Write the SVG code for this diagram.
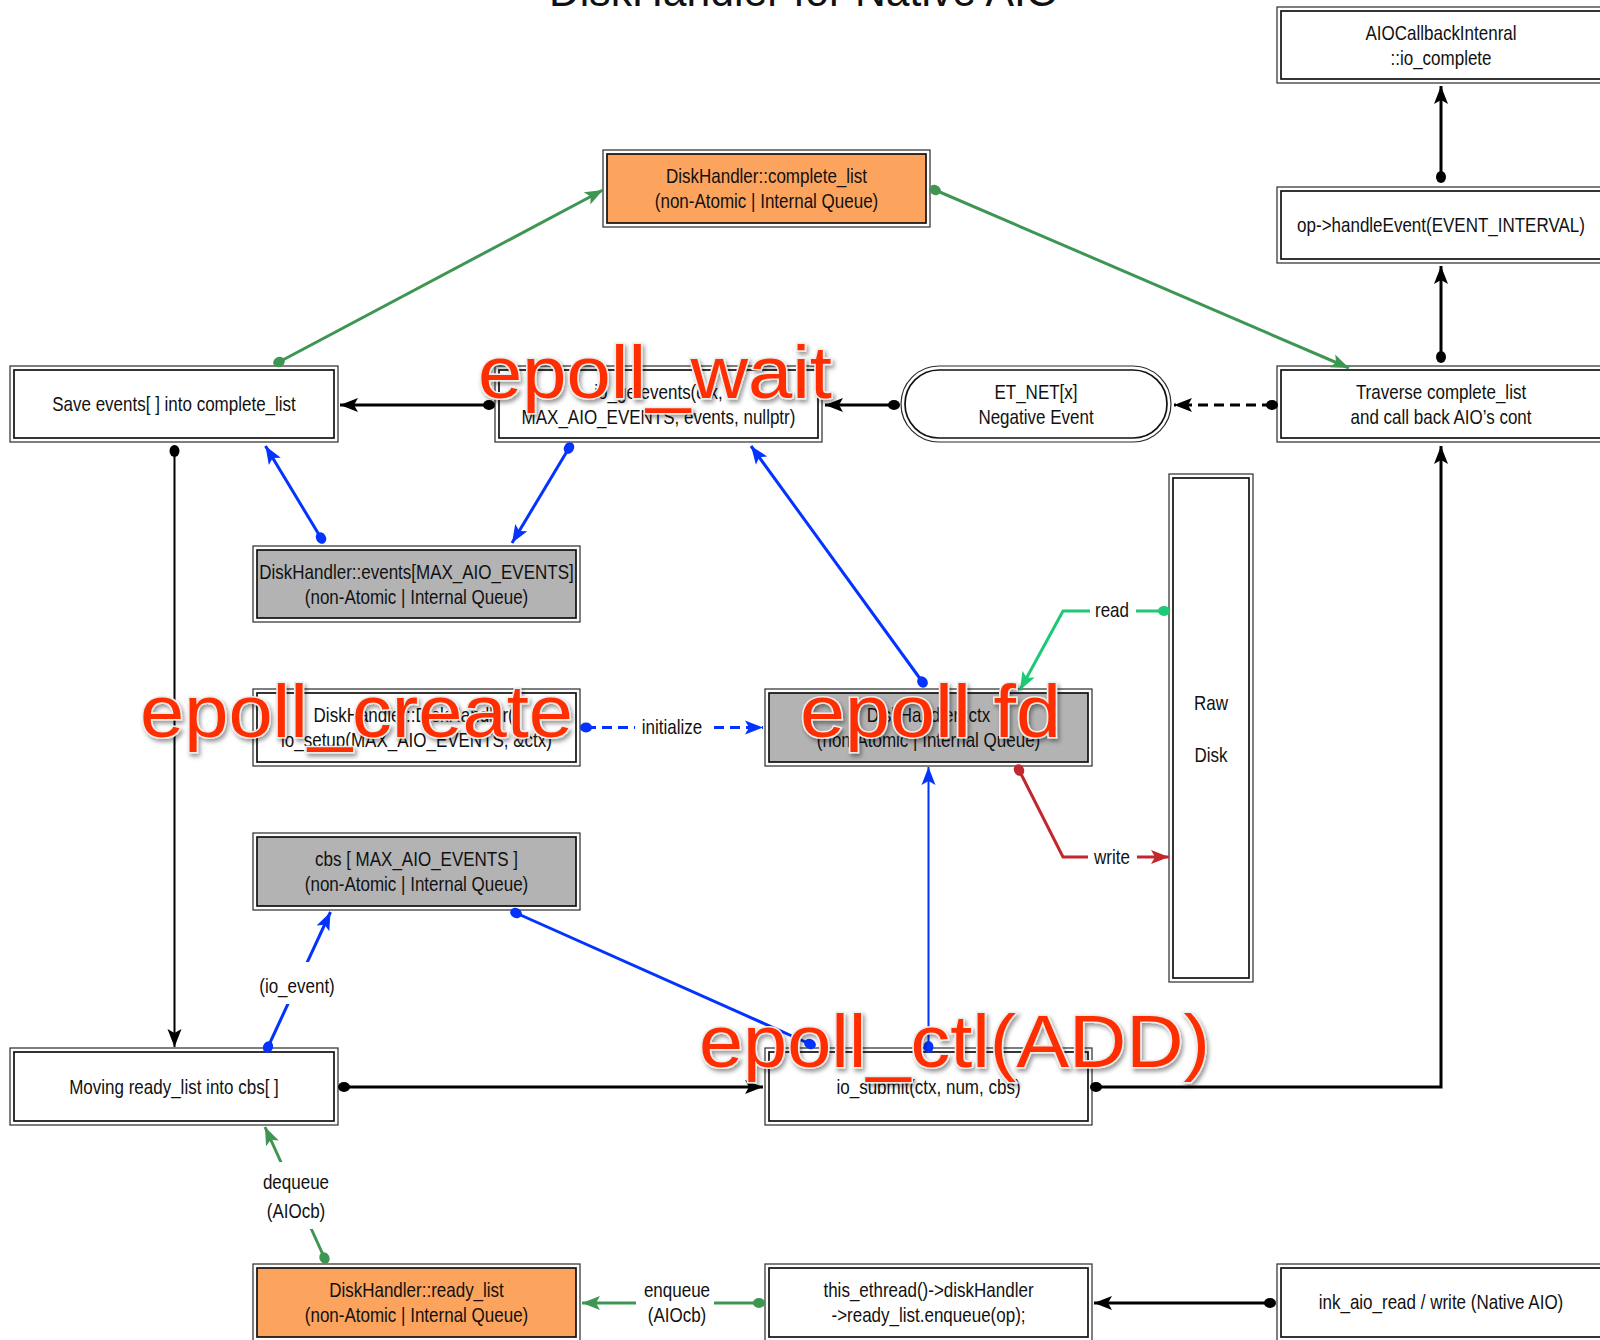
<svg xmlns="http://www.w3.org/2000/svg" width="1600" height="1340" viewBox="0 0 1600 1340">
  <style>
    .o { fill: #fff; stroke: #2a2a2a; stroke-width: 1.2; }
    .i { fill: none; stroke: #111; stroke-width: 1.7; }
    .or { fill: #fca45e; }
    .gy { fill: #b3b3b3; }
    .t text, text.t { font-family: "Liberation Sans", Arial, sans-serif; font-size: 20px; fill: #111; text-anchor: middle; }
    .title { font-family: "Liberation Sans", Arial, sans-serif; font-size: 44px; fill: #111; }
    .ov { font-family: "Liberation Sans", Arial, sans-serif; font-size: 74px; fill: #ff2e00; stroke: #ececec; stroke-width: 3; paint-order: stroke; filter: url(#sh); }
    .c { fill: none; stroke-width: 3; }
    .k { stroke: #000; }
    .b { stroke: #0433ff; }
    .g { stroke: #3f9652; }
    .rg { stroke: #1dc975; }
    .rd { stroke: #c1272d; }
    .thin { stroke-width: 2; }
    .dash { stroke-dasharray: 10 6; }
    .bg { fill: #fff; }
  </style>
  <defs>
    <filter id="sh" x="-10%" y="-30%" width="130%" height="170%">
      <feDropShadow dx="2" dy="3" stdDeviation="2" flood-color="#000" flood-opacity="0.4"/>
    </filter>
    <!-- arrowheads and dot tails, one pair per line colour -->
    <marker id="ak" markerUnits="userSpaceOnUse" markerWidth="20" markerHeight="16" viewBox="0 0 20 16" refX="18" refY="8" orient="auto"><path d="M0,1 L18,8 L0,15 L4,8 z" fill="#000"/></marker>
    <marker id="dk" markerUnits="userSpaceOnUse" markerWidth="14" markerHeight="12" viewBox="0 0 14 12" refX="7" refY="6" orient="auto"><ellipse cx="7" cy="6" rx="6" ry="5" fill="#000"/></marker>
    <marker id="ab" markerUnits="userSpaceOnUse" markerWidth="20" markerHeight="16" viewBox="0 0 20 16" refX="18" refY="8" orient="auto"><path d="M0,1 L18,8 L0,15 L4,8 z" fill="#0433ff"/></marker>
    <marker id="db" markerUnits="userSpaceOnUse" markerWidth="14" markerHeight="12" viewBox="0 0 14 12" refX="7" refY="6" orient="auto"><ellipse cx="7" cy="6" rx="6" ry="5" fill="#0433ff"/></marker>
    <marker id="ag" markerUnits="userSpaceOnUse" markerWidth="20" markerHeight="16" viewBox="0 0 20 16" refX="18" refY="8" orient="auto"><path d="M0,1 L18,8 L0,15 L4,8 z" fill="#3f9652"/></marker>
    <marker id="dg" markerUnits="userSpaceOnUse" markerWidth="14" markerHeight="12" viewBox="0 0 14 12" refX="7" refY="6" orient="auto"><ellipse cx="7" cy="6" rx="6" ry="5" fill="#3f9652"/></marker>
    <marker id="arg" markerUnits="userSpaceOnUse" markerWidth="20" markerHeight="16" viewBox="0 0 20 16" refX="18" refY="8" orient="auto"><path d="M0,1 L18,8 L0,15 L4,8 z" fill="#1dc975"/></marker>
    <marker id="drg" markerUnits="userSpaceOnUse" markerWidth="14" markerHeight="12" viewBox="0 0 14 12" refX="7" refY="6" orient="auto"><ellipse cx="7" cy="6" rx="6" ry="5" fill="#1dc975"/></marker>
    <marker id="ard" markerUnits="userSpaceOnUse" markerWidth="20" markerHeight="16" viewBox="0 0 20 16" refX="18" refY="8" orient="auto"><path d="M0,1 L18,8 L0,15 L4,8 z" fill="#c1272d"/></marker>
    <marker id="drd" markerUnits="userSpaceOnUse" markerWidth="14" markerHeight="12" viewBox="0 0 14 12" refX="7" refY="6" orient="auto"><ellipse cx="7" cy="6" rx="6" ry="5" fill="#c1272d"/></marker>
  </defs>

  <rect width="1600" height="1340" fill="#fff"/>

  <text class="title" x="549" y="6" textLength="510" lengthAdjust="spacingAndGlyphs">DiskHandler for Native AIO</text>

  <!-- nodes: outer thin frame + inner frame (double border) -->
  <g id="io-complete">
    <rect class="o" x="1277" y="7" width="328" height="76"/>
    <rect class="i" x="1281" y="11" width="320" height="68"/>
    <g class="t" transform="translate(1441,0) scale(0.85,1)"><text y="40">AIOCallbackIntenral</text><text y="65">::io_complete</text></g>
  </g>
  <g id="handle-event">
    <rect class="o" x="1277" y="187" width="328" height="76"/>
    <rect class="i" x="1281" y="191" width="320" height="68"/>
    <g class="t" transform="translate(1441,0) scale(0.85,1)"><text y="232">op-&gt;handleEvent(EVENT_INTERVAL)</text></g>
  </g>
  <g id="complete-list">
    <rect class="o" x="603" y="150" width="327" height="77"/>
    <rect class="i or" x="607" y="154" width="319" height="69"/>
    <g class="t" transform="translate(766.5,0) scale(0.85,1)"><text y="183">DiskHandler::complete_list</text><text y="208">(non-Atomic | Internal Queue)</text></g>
  </g>
  <g id="save-events">
    <rect class="o" x="10" y="366" width="328" height="76"/>
    <rect class="i" x="14" y="370" width="320" height="68"/>
    <g class="t" transform="translate(174,0) scale(0.85,1)"><text y="411">Save events[ ] into complete_list</text></g>
  </g>
  <g id="io-getevents">
    <rect class="o" x="495" y="366" width="327" height="76"/>
    <rect class="i" x="499" y="370" width="319" height="68"/>
    <g class="t" transform="translate(658.5,0) scale(0.85,1)"><text y="399">io_getevents(ctx,</text><text y="424">MAX_AIO_EVENTS, events, nullptr)</text></g>
  </g>
  <g id="negative-event">
    <rect class="o" x="901" y="366" width="270" height="76" rx="38"/>
    <rect class="i" x="905" y="370" width="262" height="68" rx="34"/>
    <g class="t" transform="translate(1036,0) scale(0.85,1)"><text y="399">ET_NET[x]</text><text y="424">Negative Event</text></g>
  </g>
  <g id="traverse">
    <rect class="o" x="1277" y="366" width="328" height="76"/>
    <rect class="i" x="1281" y="370" width="320" height="68"/>
    <g class="t" transform="translate(1441,0) scale(0.85,1)"><text y="399">Traverse complete_list</text><text y="424">and call back AIO’s cont</text></g>
  </g>
  <g id="events-array">
    <rect class="o" x="253" y="546" width="327" height="76"/>
    <rect class="i gy" x="257" y="550" width="319" height="68"/>
    <g class="t" transform="translate(416.5,0) scale(0.85,1)"><text y="579">DiskHandler::events[MAX_AIO_EVENTS]</text><text y="604">(non-Atomic | Internal Queue)</text></g>
  </g>
  <g id="io-setup">
    <rect class="o" x="253" y="689" width="327" height="77"/>
    <rect class="i" x="257" y="693" width="319" height="69"/>
    <g class="t" transform="translate(416.5,0) scale(0.85,1)"><text y="722">DiskHandler::DiskHandler()</text><text y="747">io_setup(MAX_AIO_EVENTS, &amp;ctx)</text></g>
  </g>
  <g id="ctx">
    <rect class="o" x="765" y="689" width="327" height="77"/>
    <rect class="i gy" x="769" y="693" width="319" height="69"/>
    <g class="t" transform="translate(928.5,0) scale(0.85,1)"><text y="722">DiskHandler::ctx</text><text y="747">(non-Atomic | Internal Queue)</text></g>
  </g>
  <g id="cbs">
    <rect class="o" x="253" y="833" width="327" height="77"/>
    <rect class="i gy" x="257" y="837" width="319" height="69"/>
    <g class="t" transform="translate(416.5,0) scale(0.85,1)"><text y="866">cbs [ MAX_AIO_EVENTS ]</text><text y="891">(non-Atomic | Internal Queue)</text></g>
  </g>
  <g id="raw-disk">
    <rect class="o" x="1169" y="474" width="84" height="508"/>
    <rect class="i" x="1173" y="478" width="76" height="500"/>
    <g class="t" transform="translate(1211,0) scale(0.85,1)"><text y="710">Raw</text><text y="762">Disk</text></g>
  </g>
  <g id="moving-ready-list">
    <rect class="o" x="10" y="1048" width="328" height="77"/>
    <rect class="i" x="14" y="1052" width="320" height="69"/>
    <g class="t" transform="translate(174,0) scale(0.85,1)"><text y="1094">Moving ready_list into cbs[ ]</text></g>
  </g>
  <g id="io-submit">
    <rect class="o" x="765" y="1048" width="327" height="77"/>
    <rect class="i" x="769" y="1052" width="319" height="69"/>
    <g class="t" transform="translate(928.5,0) scale(0.85,1)"><text y="1094">io_submit(ctx, num, cbs)</text></g>
  </g>
  <g id="ready-list">
    <rect class="o" x="253" y="1264" width="327" height="77"/>
    <rect class="i or" x="257" y="1268" width="319" height="69"/>
    <g class="t" transform="translate(416.5,0) scale(0.85,1)"><text y="1297">DiskHandler::ready_list</text><text y="1322">(non-Atomic | Internal Queue)</text></g>
  </g>
  <g id="enqueue-op">
    <rect class="o" x="765" y="1264" width="327" height="77"/>
    <rect class="i" x="769" y="1268" width="319" height="69"/>
    <g class="t" transform="translate(928.5,0) scale(0.85,1)"><text y="1297">this_ethread()-&gt;diskHandler</text><text y="1322">-&gt;ready_list.enqueue(op);</text></g>
  </g>
  <g id="ink-aio">
    <rect class="o" x="1277" y="1264" width="328" height="77"/>
    <rect class="i" x="1281" y="1268" width="320" height="69"/>
    <g class="t" transform="translate(1441,0) scale(0.85,1)"><text y="1309">ink_aio_read / write (Native AIO)</text></g>
  </g>

  <!-- connectors -->
  <g id="connectors">
    <path class="c k" d="M1441,177 V86" marker-start="url(#dk)" marker-end="url(#ak)"/>
    <path class="c k" d="M1441,357 V266" marker-start="url(#dk)" marker-end="url(#ak)"/>
    <path class="c g" d="M935,190 L1349,368" marker-start="url(#dg)" marker-end="url(#ag)"/>
    <path class="c g" d="M279,362 L603,190" marker-start="url(#dg)" marker-end="url(#ag)"/>
    <path class="c k" d="M489,405 H340" marker-start="url(#dk)" marker-end="url(#ak)"/>
    <path class="c k" d="M894,405 H825" marker-start="url(#dk)" marker-end="url(#ak)"/>
    <path class="c k dash" d="M1272,405 H1174" marker-start="url(#dk)" marker-end="url(#ak)"/>
    <path class="c k thin" d="M174.5,451 V1047" marker-start="url(#dk)" marker-end="url(#ak)"/>
    <path class="c b" d="M321,538 L265.5,446" marker-start="url(#db)" marker-end="url(#ab)"/>
    <path class="c b" d="M569,448 L512,543" marker-start="url(#db)" marker-end="url(#ab)"/>
    <path class="c b" d="M922.5,682 L751,446" marker-start="url(#db)" marker-end="url(#ab)"/>
    <path class="c rg" d="M1164,611 H1063 L1020,690" marker-start="url(#drg)" marker-end="url(#arg)"/>
    <path class="c rd" d="M1019,770 L1063,857 H1169" marker-start="url(#drd)" marker-end="url(#ard)"/>
    <path class="c b dash" d="M586,727.5 H763" marker-start="url(#db)" marker-end="url(#ab)"/>
    <path class="c b thin" d="M928.5,1047 V767" marker-start="url(#db)" marker-end="url(#ab)"/>
    <path class="c b" d="M516,913 L810,1044" marker-start="url(#db)" marker-end="url(#db)"/>
    <path class="c b" d="M268,1047 L330.5,912" marker-start="url(#db)" marker-end="url(#ab)"/>
    <path class="c k" d="M344,1087 H763" marker-start="url(#dk)" marker-end="url(#ak)"/>
    <path class="c k" d="M1096,1087 H1441 V446" marker-start="url(#dk)" marker-end="url(#ak)"/>
    <path class="c g" d="M324.5,1258 L265,1127" marker-start="url(#dg)" marker-end="url(#ag)"/>
    <path class="c g" d="M759,1303 H582" marker-start="url(#dg)" marker-end="url(#ag)"/>
    <path class="c k" d="M1270,1303 H1094" marker-start="url(#dk)" marker-end="url(#ak)"/>

    <!-- connector labels on white patches -->
    <rect class="bg" x="1090" y="598" width="46" height="26"/>
    <text class="t" transform="translate(1112,617) scale(0.85,1)">read</text>
    <rect class="bg" x="1088" y="844" width="49" height="26"/>
    <text class="t" transform="translate(1112,864) scale(0.85,1)">write</text>
    <rect class="bg" x="635" y="715" width="75" height="26"/>
    <text class="t" transform="translate(672,734) scale(0.85,1)">initialize</text>
    <rect class="bg" x="258" y="962" width="78" height="42"/>
    <text class="t" transform="translate(297,993) scale(0.85,1)">(io_event)</text>
    <rect class="bg" x="260" y="1162" width="72" height="67"/>
    <text class="t" transform="translate(296,1189) scale(0.85,1)">dequeue</text>
    <text class="t" transform="translate(296,1218) scale(0.85,1)">(AIOcb)</text>
    <rect class="bg" x="636" y="1280" width="78" height="50"/>
    <text class="t" transform="translate(677,1297) scale(0.85,1)">enqueue</text>
    <text class="t" transform="translate(677,1322) scale(0.85,1)">(AIOcb)</text>
  </g>

  <!-- large red call names laid over the flow -->
  <g id="epoll-labels">
    <text class="ov" x="478" y="398" textLength="354" lengthAdjust="spacingAndGlyphs">epoll_wait</text>
    <text class="ov" x="140" y="737" textLength="433" lengthAdjust="spacingAndGlyphs">epoll_create</text>
    <text class="ov" x="800" y="737" textLength="261" lengthAdjust="spacingAndGlyphs">epoll fd</text>
    <text class="ov" x="699" y="1067" textLength="511" lengthAdjust="spacingAndGlyphs">epoll_ctl(ADD)</text>
  </g>
</svg>
